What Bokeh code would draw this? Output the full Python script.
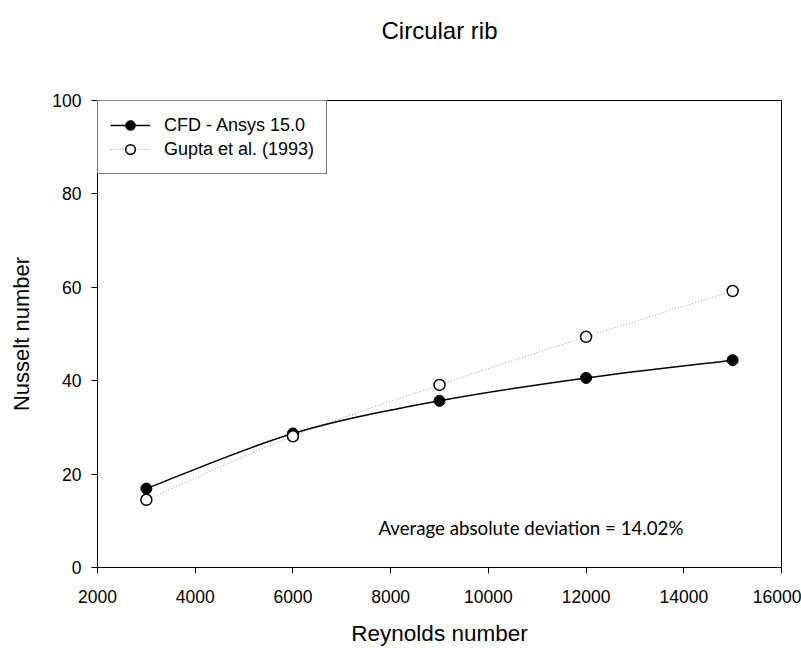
import numpy as np
from bokeh.plotting import figure
from bokeh.models import Legend, LegendItem, Label, Range1d, FixedTicker
from bokeh.embed import file_html
from bokeh.resources import INLINE

# ---- data ----
reynolds = [3000, 6000, 9000, 12000, 15000]
nu_cfd = [16.9, 28.7, 35.7, 40.6, 44.4]
nu_gupta = [14.5, 28.1, 39.1, 49.4, 59.2]
x_ticks = [2000, 4000, 6000, 8000, 10000, 12000, 14000, 16000]
y_ticks = [0, 20, 40, 60, 80, 100]
title_text = "Circular rib"
x_label = "Reynolds number"
y_label = "Nusselt number"
legend_labels = ["CFD - Ansys 15.0", "Gupta et al. (1993)"]
note_text = "Average absolute deviation = 14.02%"

FONT = "Liberation Sans"

p = figure(width=801, height=648, output_backend="svg", toolbar_location=None,
           x_range=Range1d(2000, 16000), y_range=Range1d(0, 100),
           min_border_left=97, min_border_right=20, min_border_top=100,
           min_border_bottom=81)
p.background_fill_color = "white"
p.border_fill_color = "white"
p.outline_line_color = "black"
p.outline_line_width = 1
p.xgrid.visible = False
p.ygrid.visible = False

# title
p.title.text = title_text
p.title.align = "center"
p.title.vertical_align = "top"
p.title.text_font = FONT
p.title.text_font_size = "24px"
p.title.text_font_style = "normal"
p.title.text_color = "black"
p.title.padding = dict(left=0, right=0, top=0, bottom=40)
p.title.standoff = 30

for ax in (p.xaxis[0], p.yaxis[0]):
    ax.axis_line_color = "black"
    ax.axis_line_width = 1
    ax.major_tick_line_color = "black"
    ax.major_tick_in = 0
    ax.major_tick_out = 6
    ax.minor_tick_line_color = None
    ax.major_label_text_font = FONT
    ax.major_label_text_font_size = "17.5px"
    ax.major_label_text_color = "black"
    ax.axis_label_text_font = FONT
    ax.axis_label_text_font_style = "normal"
    ax.axis_label_text_color = "black"

p.xaxis[0].ticker = FixedTicker(ticks=x_ticks)
p.yaxis[0].ticker = FixedTicker(ticks=y_ticks)
p.xaxis[0].axis_label = x_label
p.yaxis[0].axis_label = y_label
p.xaxis[0].axis_label_text_font_size = "22.5px"
p.yaxis[0].axis_label_text_font_size = "22px"
p.xaxis[0].major_label_standoff = 16
p.xaxis[0].axis_label_standoff = 15
p.yaxis[0].major_label_standoff = 10
p.yaxis[0].axis_label_standoff = 15


def catmull_bezier(xs, ys):
    x = np.asarray(xs, dtype=float)
    y = np.asarray(ys, dtype=float)
    xp = np.concatenate([[x[0]], x, [x[-1]]])
    yp = np.concatenate([[y[0]], y, [y[-1]]])
    n = len(x) - 1
    seg = dict(x0=[], y0=[], x1=[], y1=[], cx0=[], cy0=[], cx1=[], cy1=[])
    for i in range(n):
        a, b, c, d = i, i + 1, i + 2, i + 3
        seg["x0"].append(xp[b]); seg["y0"].append(yp[b])
        seg["x1"].append(xp[c]); seg["y1"].append(yp[c])
        seg["cx0"].append(xp[b] + (xp[c] - xp[a]) / 6.0)
        seg["cy0"].append(yp[b] + (yp[c] - yp[a]) / 6.0)
        seg["cx1"].append(xp[c] - (xp[d] - xp[b]) / 6.0)
        seg["cy1"].append(yp[c] - (yp[d] - yp[b]) / 6.0)
    return seg


GUPTA_GRAY = "#a0a0a0"
g_seg = catmull_bezier(reynolds, nu_gupta)
p.bezier(x0="x0", y0="y0", x1="x1", y1="y1", cx0="cx0", cy0="cy0",
         cx1="cx1", cy1="cy1", source=g_seg,
         line_color=GUPTA_GRAY, line_width=1, line_dash="1 2")
c_seg = catmull_bezier(reynolds, nu_cfd)
p.bezier(x0="x0", y0="y0", x1="x1", y1="y1", cx0="cx0", cy0="cy0",
         cx1="cx1", cy1="cy1", source=c_seg,
         line_color="black", line_width=1.5)

c_pts = p.scatter(reynolds, nu_cfd, size=11, marker="circle",
                  fill_color="black", line_color="black", line_width=1)
g_pts = p.scatter(reynolds, nu_gupta, size=11, marker="circle",
                  fill_color="white", line_color="black", line_width=1.5)

# legend line stand-ins (not drawn in the plot: NaN data)
c_leg_line = p.line([np.nan], [np.nan], line_color="black", line_width=1.5)
g_leg_line = p.line([np.nan], [np.nan], line_color=GUPTA_GRAY, line_width=1,
                    line_dash="1 2")

legend = Legend(items=[
    LegendItem(label=legend_labels[0], renderers=[c_leg_line, c_pts]),
    LegendItem(label=legend_labels[1], renderers=[g_leg_line, g_pts]),
], location="top_left")
legend.margin = 0
legend.padding = 12
legend.spacing = 0
legend.glyph_width = 40
legend.glyph_height = 24
legend.label_height = 24
legend.label_standoff = 14
legend.label_text_font = FONT
legend.label_text_font_size = "18px"
legend.label_text_color = "black"
legend.border_line_color = "black"
legend.border_line_width = 1
legend.background_fill_color = "white"
legend.background_fill_alpha = 1
p.add_layout(legend)

# annotation
p.add_layout(Label(x=7750, y=8.4, text=note_text, text_align="left",
                   text_baseline="middle", text_font="Lato",
                   text_font_size="18.7px", text_color="black"))

open("out.html", "w").write(file_html(p, INLINE))
